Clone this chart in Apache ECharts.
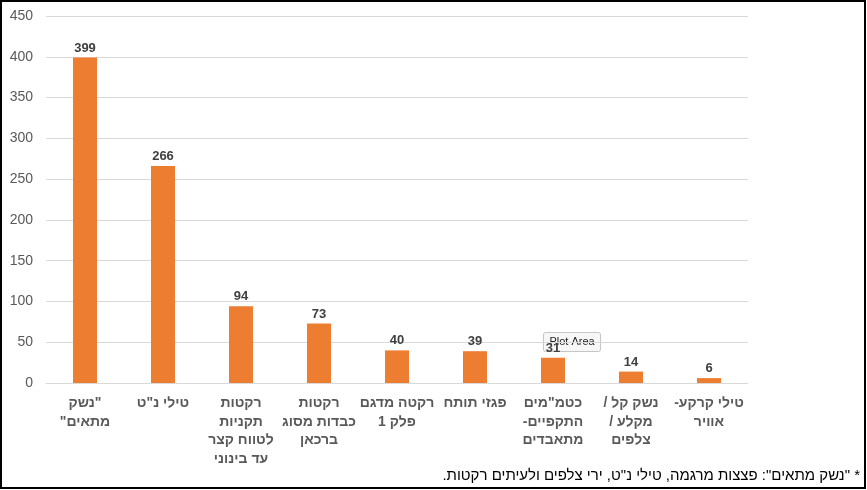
<!DOCTYPE html>
<html>
<head>
<meta charset="utf-8">
<script src="https://cdn.jsdelivr.net/npm/echarts@6/dist/echarts.min.js"></script>
<style>
html,body{margin:0;padding:0;background:#fff;}
#chart{width:867px;height:490px;}
</style>
</head>
<body>
<div id="chart"></div>
<script>
const categories = [
  '"נשק\nמתאים"',
  'טילי נ"ט',
  'רקטות\nתקניות\nלטווח קצר\nעד בינוני',
  'רקטות\nכבדות מסוג\nברכאן',
  'רקטה מדגם\nפלק 1',
  'פגזי תותח',
  'כטמ"מים\nהתקפיים-\nמתאבדים',
  'נשק קל /\nמקלע /\nצלפים',
  'טילי קרקע-\nאוויר'
];
const values = [399, 266, 94, 73, 40, 39, 31, 14, 6];
const yTicks = { min: 0, max: 450, interval: 50 };
const footnote = '* "נשק מתאים": פצצות מרגמה, טילי נ"ט, ירי צלפים ולעיתים רקטות.';
const tooltipText = 'Plot Area';

// The reference lays out each label line left-to-right (Excel); the canvas here
// lays Hebrew label lines out right-to-left, so swap leading/trailing punctuation.
function rev(s) { return s.split('').reverse().join(''); }
function ltrLine(l) {
  const m = l.match(/^([\s"'\/\-]*)([\s\S]*?)([\s"'\/\-]*)$/);
  return rev(m[3]) + m[2] + rev(m[1]);
}
function ltr(s) { return s.split('\n').map(ltrLine).join('\n'); }

const chart = echarts.init(document.getElementById('chart'), null, { renderer: 'canvas' });
chart.setOption({
  animation: false,
  backgroundColor: '#ffffff',
  grid: { left: 46, right: 119, top: 16, bottom: 107, containLabel: false },
  xAxis: {
    type: 'category',
    data: categories,
    axisLine: { show: true, lineStyle: { color: '#d9d9d9', width: 1 } },
    axisTick: { show: false },
    axisLabel: {
      interval: 0,
      color: '#595959',
      fontFamily: 'Liberation Sans, Arial, sans-serif',
      fontWeight: 'bold',
      fontSize: 14,
      lineHeight: 18.5,
      margin: 11,
      formatter: function (v) { return ltr(v); }
    }
  },
  yAxis: {
    type: 'value',
    min: yTicks.min,
    max: yTicks.max,
    interval: yTicks.interval,
    axisLine: { show: false },
    axisTick: { show: false },
    splitLine: { lineStyle: { color: '#d9d9d9', width: 1 } },
    axisLabel: {
      color: '#595959',
      fontFamily: 'Liberation Sans, Arial, sans-serif',
      fontSize: 14,
      margin: 13
    }
  },
  series: [{
    type: 'bar',
    data: values,
    barWidth: 24,
    itemStyle: { color: '#ED7D31' },
    label: {
      show: true,
      position: 'top',
      distance: 3,
      color: '#404040',
      fontFamily: 'Liberation Sans, Arial, sans-serif',
      fontWeight: 'bold',
      fontSize: 13
    }
  }],
  graphic: [
    {
      type: 'rect',
      shape: { x: 1, y: 1, width: 864, height: 487 },
      style: { fill: null, stroke: '#000000', lineWidth: 2 },
      silent: true
    },
    {
      type: 'text',
      right: 7,
      top: 468,
      style: {
        text: '\u200F' + footnote + '\u200F',
        fill: '#000000',
        font: '15px "Liberation Sans", Arial, sans-serif'
      }
    },
    {
      type: 'group',
      left: 543,
      top: 332,
      children: [
        {
          type: 'rect',
          shape: { x: 0, y: 0, width: 57, height: 19, r: 2 },
          style: { fill: '#f7f7f7', stroke: '#c6c6c6', lineWidth: 1 }
        },
        {
          type: 'text',
          x: 28.5, y: 9.5,
          style: {
            text: tooltipText,
            fill: '#222222',
            align: 'center',
            verticalAlign: 'middle',
            font: '11px "Liberation Sans", Arial, sans-serif'
          }
        }
      ]
    }
  ]
});
</script>
</body>
</html>
